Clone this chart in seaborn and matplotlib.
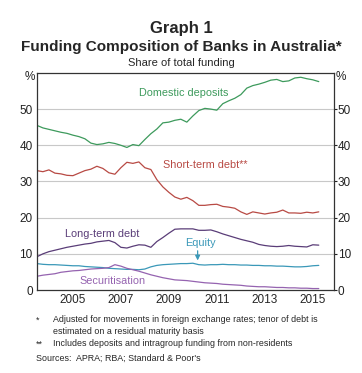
import numpy as np
import pandas as pd
import seaborn as sns
import matplotlib.pyplot as plt

# quarterly observations, share of total funding (%)
years = [2004 + q * 0.25 for q in range(48)]

domestic_deposits = [
    45.5, 44.8, 44.4, 44.0, 43.6, 43.3, 42.8, 42.4, 41.8, 40.6, 40.2, 40.4,
    40.8, 40.5, 40.0, 39.4, 40.2, 39.9, 41.6, 43.2, 44.5, 46.2, 46.4, 46.9,
    47.2, 46.4, 48.1, 49.6, 50.2, 50.0, 49.7, 51.5, 52.3, 53.0, 54.0, 55.8,
    56.5, 56.9, 57.4, 58.0, 58.2, 57.6, 57.8, 58.6, 58.8, 58.4, 58.1, 57.6]
short_term_debt = [
    33.0, 32.7, 33.2, 32.3, 32.1, 31.7, 31.6, 32.3, 33.0, 33.4, 34.2, 33.6,
    32.4, 32.0, 33.8, 35.3, 35.0, 35.4, 33.8, 33.3, 30.5, 28.5, 27.0, 25.7,
    25.1, 25.6, 24.7, 23.4, 23.4, 23.6, 23.7, 23.1, 22.9, 22.6, 21.6, 20.9,
    21.6, 21.3, 21.0, 21.3, 21.5, 22.1, 21.3, 21.3, 21.2, 21.5, 21.3, 21.6]
long_term_debt = [
    9.2, 10.0, 10.6, 11.0, 11.4, 11.8, 12.1, 12.4, 12.7, 12.9, 13.3, 13.5,
    13.7, 13.1, 11.8, 11.6, 12.1, 12.5, 12.4, 11.8, 13.4, 14.5, 15.7, 16.8,
    16.9, 16.9, 16.9, 16.5, 16.5, 16.6, 16.1, 15.5, 15.0, 14.5, 14.0, 13.6,
    13.2, 12.6, 12.3, 12.1, 12.0, 12.1, 12.3, 12.1, 12.0, 11.9, 12.5, 12.4]
equity = [
    7.3, 7.1, 7.0, 7.0, 6.9, 6.8, 6.7, 6.7, 6.5, 6.4, 6.3, 6.2,
    6.0, 5.9, 5.8, 5.7, 5.7, 5.6, 5.8, 6.4, 6.8, 7.0, 7.1, 7.2,
    7.3, 7.3, 7.4, 7.0, 6.9, 7.0, 7.0, 7.1, 7.0, 7.0, 6.9, 6.9,
    6.8, 6.8, 6.7, 6.7, 6.6, 6.6, 6.5, 6.4, 6.4, 6.5, 6.7, 6.8]
securitisation = [
    3.8, 4.1, 4.3, 4.5, 4.9, 5.1, 5.3, 5.4, 5.6, 5.8, 5.9, 6.0,
    6.2, 7.0, 6.6, 6.0, 5.6, 5.2, 4.7, 4.2, 3.8, 3.4, 3.1, 2.8,
    2.7, 2.6, 2.4, 2.2, 2.0, 1.9, 1.8, 1.6, 1.5, 1.4, 1.3, 1.1,
    1.0, 0.9, 0.9, 0.8, 0.7, 0.7, 0.6, 0.6, 0.5, 0.5, 0.4, 0.4]

year_labels = ["2005", "2007", "2009", "2011", "2013", "2015"]

colors = {
    "Domestic deposits": "#3d9a5c",
    "Short-term debt**": "#b84a44",
    "Long-term debt": "#5a3d78",
    "Equity": "#3a98b8",
    "Securitisation": "#9563b0",
}

df = pd.DataFrame({
    "year": years,
    "Domestic deposits": domestic_deposits,
    "Short-term debt**": short_term_debt,
    "Long-term debt": long_term_debt,
    "Equity": equity,
    "Securitisation": securitisation,
})
long_df = df.melt(id_vars="year", var_name="series", value_name="share")

sns.set_style("white")
plt.rcParams["font.family"] = ["Liberation Sans", "DejaVu Sans"]

fig = plt.figure(figsize=(3.62, 3.73), dpi=100)
ax = fig.add_axes([0.102, 0.2225, 0.820, 0.582])

ax.set_ylim(0, 60)
ax.set_xlim(2004, 2016.375)
for v in range(10, 60, 10):
    ax.axhline(v, color="#c8c8c8", lw=0.8, zorder=0)

sns.lineplot(data=long_df, x="year", y="share", hue="series",
             palette=colors, lw=0.9, legend=False, ax=ax)

ax.set_xlabel("")
ax.set_ylabel("")
ax.set_yticks(range(0, 60, 10))
ax.tick_params(axis="y", labelsize=8.5, length=2, pad=1, colors="#222222",
               labelright=True, right=True)
ax.set_xticks(range(2005, 2017))
ax.set_xticklabels([])
ax.set_xticks([int(y) + 0.5 for y in year_labels], minor=True)
ax.set_xticklabels(year_labels, minor=True)
ax.tick_params(axis="x", which="major", direction="in", length=4, width=0.8,
               colors="#333333")
ax.tick_params(axis="x", which="minor", length=0, labelsize=8.5, pad=3)
for s in ax.spines.values():
    s.set_color("#333333")
    s.set_linewidth(0.9)

fs = 7.8
ax.text(2010.1, 54.5, "Domestic deposits", color=colors["Domestic deposits"],
        fontsize=fs, ha="center", va="center")
ax.text(2011.0, 34.6, "Short-term debt**", color=colors["Short-term debt**"],
        fontsize=fs, ha="center", va="center")
ax.text(2006.7, 15.6, "Long-term debt", color=colors["Long-term debt"],
        fontsize=fs, ha="center", va="center")
ax.text(2010.8, 13.1, "Equity", color=colors["Equity"],
        fontsize=fs, ha="center", va="center")
ax.text(2007.15, 2.6, "Securitisation", color=colors["Securitisation"],
        fontsize=fs, ha="center", va="center")
ax.annotate("", xy=(2010.7, 7.4), xytext=(2010.7, 11.6),
            arrowprops=dict(arrowstyle="-|>", color=colors["Equity"], lw=0.9,
                            mutation_scale=7))

fig.text(0.5, 1 - 28 / 373, "Graph 1", ha="center", va="center",
         fontsize=12, fontweight="bold")
fig.text(0.5, 1 - 47 / 373, "Funding Composition of Banks in Australia*",
         ha="center", va="center", fontsize=11, fontweight="bold")
fig.text(0.5, 1 - 63 / 373, "Share of total funding", ha="center",
         va="center", fontsize=8)
fig.text(30 / 362, 1 - 77 / 373, "%", ha="center", va="center", fontsize=8.5,
         color="#222222")
fig.text(341 / 362, 1 - 77 / 373, "%", ha="center", va="center", fontsize=8.5,
         color="#222222")

nfs = 6.4
fig.text(36 / 362, 1 - 320 / 373, "*", fontsize=nfs, va="center")
fig.text(53 / 362, 1 - 320 / 373,
         "Adjusted for movements in foreign exchange rates; tenor of debt is",
         fontsize=nfs, va="center")
fig.text(53 / 362, 1 - 331 / 373, "estimated on a residual maturity basis",
         fontsize=nfs, va="center")
fig.text(36 / 362, 1 - 344 / 373, "**", fontsize=nfs, va="center")
fig.text(53 / 362, 1 - 344 / 373,
         "Includes deposits and intragroup funding from non-residents",
         fontsize=nfs, va="center")
fig.text(36 / 362, 1 - 358 / 373, "Sources:  APRA; RBA; Standard & Poor's",
         fontsize=nfs, va="center")

fig.savefig("out.png", dpi=100, facecolor="white")
